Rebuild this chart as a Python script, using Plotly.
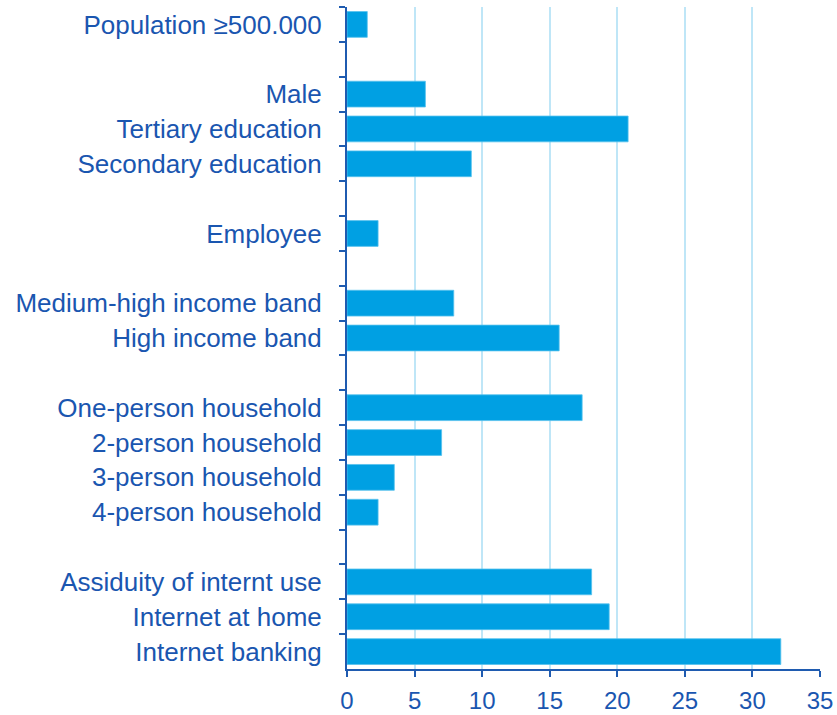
import plotly.graph_objects as go

# Rows listed top to bottom; blank entries separate the groups
labels = [
    "Population ≥500.000",
    " ",
    "Male",
    "Tertiary education",
    "Secondary education",
    "  ",
    "Employee",
    "   ",
    "Medium-high income band",
    "High income band",
    "    ",
    "One-person household",
    "2-person household",
    "3-person household",
    "4-person household",
    "     ",
    "Assiduity of internt use",
    "Internet at home",
    "Internet banking",
]
values = [
    1.5, None,
    5.8, 20.8, 9.2, None,
    2.3, None,
    7.9, 15.7, None,
    17.4, 7.0, 3.5, 2.3, None,
    18.1, 19.4, 32.1,
]
x_ticks = [0, 5, 10, 15, 20, 25, 30, 35]

BAR = "#00a0e3"
AXIS = "#1f5bb0"
GRID = "#bfe6f7"
TEXT = "#1a56b0"

fig = go.Figure(
    go.Bar(
        x=values,
        y=labels,
        orientation="h",
        marker=dict(color=BAR, line=dict(color="#55c2ee", width=0.8)),
        width=0.74,
        hoverinfo="x+y",
    )
)

fig.update_layout(
    width=837,
    height=715,
    margin=dict(l=347, r=17, t=7, b=46),
    paper_bgcolor="white",
    plot_bgcolor="white",
    showlegend=False,
    font=dict(family="Liberation Sans, Arial, sans-serif", size=26, color=TEXT),
)

fig.update_xaxes(
    range=[0, 35],
    tickvals=x_ticks,
    ticktext=[str(t) for t in x_ticks],
    showgrid=True,
    gridcolor=GRID,
    gridwidth=2,
    zeroline=False,
    showline=True,
    linecolor=AXIS,
    linewidth=2,
    ticks="outside",
    ticklen=6,
    tickwidth=2,
    tickcolor=AXIS,
    tickfont=dict(size=24, color=TEXT),
    ticklabelstandoff=3,
    automargin=False,
)

fig.update_yaxes(
    type="category",
    categoryorder="array",
    categoryarray=labels,
    autorange="reversed",
    showgrid=False,
    showline=True,
    linecolor=AXIS,
    linewidth=2,
    ticks="outside",
    tickson="boundaries",
    ticklen=6,
    tickwidth=2,
    tickcolor=AXIS,
    tickfont=dict(size=26, color=TEXT),
    ticklabelstandoff=18,
    automargin=False,
)

fig.write_html("out.html")
